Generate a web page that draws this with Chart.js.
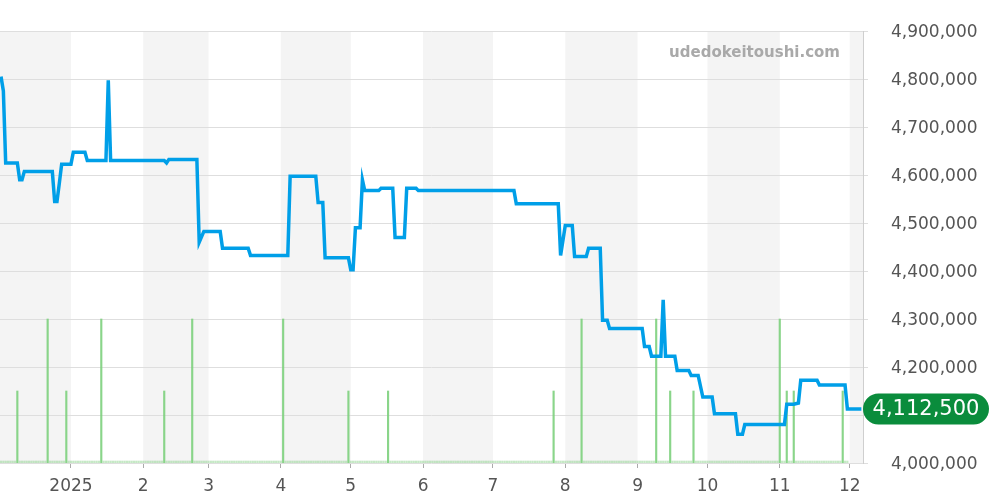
<!DOCTYPE html>
<html>
<head>
<meta charset="utf-8">
<script src="https://cdn.jsdelivr.net/npm/chart.js@4.4.1/dist/chart.umd.min.js"></script>
<style>
    html, body { margin: 0; padding: 0; background: #fff; }
    canvas { display: block; }
</style>
</head>
<body>
<canvas id="price" width="1000" height="500"></canvas>
<script>
// price line: only the corners of the step line
let priceDates = [
    '2024-12-02', '2024-12-03', '2024-12-04', '2024-12-09', '2024-12-10', '2024-12-11', '2024-12-12',
    '2024-12-24', '2024-12-25', '2024-12-26', '2024-12-27', '2024-12-28',
    '2025-01-01', '2025-01-02', '2025-01-07', '2025-01-08', '2025-01-16', '2025-01-17', '2025-01-18',
    '2025-02-10', '2025-02-11', '2025-02-12', '2025-02-24', '2025-02-25', '2025-02-27',
    '2025-03-06', '2025-03-07', '2025-03-18', '2025-03-19',
    '2025-04-04', '2025-04-05', '2025-04-16', '2025-04-17', '2025-04-19', '2025-04-20', '2025-04-30',
    '2025-05-01', '2025-05-02', '2025-05-03', '2025-05-05', '2025-05-06', '2025-05-07', '2025-05-13',
    '2025-05-14', '2025-05-19', '2025-05-20', '2025-05-24', '2025-05-25', '2025-05-29', '2025-05-30',
    '2025-07-10', '2025-07-11', '2025-07-29', '2025-07-30',
    '2025-08-01', '2025-08-04', '2025-08-05', '2025-08-10', '2025-08-11', '2025-08-16', '2025-08-17',
    '2025-08-19', '2025-08-20',
    '2025-09-03', '2025-09-04', '2025-09-06', '2025-09-07', '2025-09-11', '2025-09-12', '2025-09-13',
    '2025-09-17', '2025-09-18', '2025-09-23', '2025-09-24', '2025-09-27', '2025-09-29',
    '2025-10-03', '2025-10-04', '2025-10-13', '2025-10-14', '2025-10-16', '2025-10-17',
    '2025-11-03', '2025-11-04', '2025-11-07', '2025-11-09', '2025-11-10', '2025-11-17', '2025-11-18',
    '2025-11-29', '2025-11-30', '2025-12-06'
];
let prices = [
    4805000, 4775000, 4625000, 4625000, 4590000, 4590000, 4607500,
    4607500, 4545000, 4545000, 4582500, 4622500,
    4622500, 4647500, 4647500, 4630000, 4630000, 4797500, 4630000,
    4630000, 4625000, 4632500, 4632500, 4460000, 4482500,
    4482500, 4447500, 4447500, 4432500,
    4432500, 4597500, 4597500, 4542500, 4542500, 4427500, 4427500,
    4402500, 4402500, 4490000, 4490000, 4590000, 4567500, 4567500,
    4572500, 4572500, 4470000, 4470000, 4572500, 4572500, 4567500,
    4567500, 4540000, 4540000, 4432500,
    4495000, 4495000, 4430000, 4430000, 4447500, 4447500, 4297500,
    4297500, 4280000,
    4280000, 4242500, 4242500, 4222500, 4222500, 4340000, 4222500,
    4222500, 4192500, 4192500, 4182500, 4182500, 4137500,
    4137500, 4102500, 4102500, 4060000, 4060000, 4080000,
    4080000, 4122500, 4122500, 4125000, 4172500, 4172500, 4162500,
    4162500, 4112500, 4112500
];

// trades per day (green bars)
let tradeDates = [
    '2024-12-09', '2024-12-22', '2024-12-30', '2025-01-14', '2025-02-10', '2025-02-22',
    '2025-04-02', '2025-04-30', '2025-05-17', '2025-07-27', '2025-08-08', '2025-09-09',
    '2025-09-15', '2025-09-25', '2025-11-01', '2025-11-04', '2025-11-07', '2025-11-28'
];
let tradeCounts = [1, 2, 1, 2, 1, 2, 2, 1, 1, 1, 2, 2, 1, 1, 2, 1, 1, 1];

let monthStarts = [
    '2025-01-01', '2025-02-01', '2025-03-01', '2025-04-01', '2025-05-01', '2025-06-01',
    '2025-07-01', '2025-08-01', '2025-09-01', '2025-10-01', '2025-11-01', '2025-12-01'
];
let monthLabels = ['2025', '2', '3', '4', '5', '6', '7', '8', '9', '10', '11', '12'];
let priceTicks = [4000000, 4100000, 4200000, 4300000, 4400000, 4500000, 4600000, 4700000, 4800000, 4900000];

const siteName = 'udedokeitoushi.com';
const origin = Date.UTC(2024, 11, 1);
const FONT = 'DejaVu Sans';

function toDay(s) {
    let p = s.split('-');
    return (Date.UTC(+p[0], +p[1] - 1, +p[2]) - origin) / 86400000;
}

let pricePoints = priceDates.map((s, i) => ({ x: toDay(s), y: prices[i] }));

// every day of the year gets a bar, zero days show as the dotted base
let volume = [];
for (let d = 0; d <= toDay('2025-11-30'); d++) volume.push({ x: d, y: 0 });
tradeDates.forEach((s, i) => { volume[toDay(s)].y = tradeCounts[i]; });

let bandEdges = ['2024-12-01'].concat(monthStarts, ['2026-01-01']);

const monthBands = {
    id: 'monthBands',
    beforeDraw(chart) {
        const { ctx, chartArea, scales } = chart;
        ctx.save();
        ctx.beginPath();
        ctx.rect(chartArea.left, chartArea.top, chartArea.width, chartArea.height);
        ctx.clip();
        ctx.fillStyle = '#f4f4f4';
        for (let i = 0; i < bandEdges.length - 1; i += 2) {
            let a = scales.x.getPixelForValue(toDay(bandEdges[i]));
            let b = scales.x.getPixelForValue(toDay(bandEdges[i + 1]));
            ctx.fillRect(a, chartArea.top, b - a, chartArea.height);
        }
        ctx.restore();
    },
    beforeDatasetsDraw(chart) {
        const { ctx, chartArea } = chart;
        ctx.save();
        ctx.font = 'bold 15px "' + FONT + '"';
        ctx.fillStyle = '#a9a9a9';
        ctx.textAlign = 'right';
        ctx.textBaseline = 'middle';
        ctx.fillText(siteName, chartArea.right - 23, chartArea.top + 22);
        ctx.restore();
    }
};

const lastPriceTag = {
    id: 'lastPriceTag',
    afterDraw(chart) {
        const { ctx, chartArea, scales } = chart;
        let last = prices[prices.length - 1];
        let y = scales.y.getPixelForValue(last);
        let x = chartArea.right, w = 126, h = 31;
        ctx.save();
        ctx.fillStyle = '#0a8c3c';
        ctx.beginPath();
        ctx.roundRect(x, y - h / 2, w, h, h / 2);
        ctx.fill();
        ctx.fillStyle = '#fff';
        ctx.font = '21px "' + FONT + '"';
        ctx.textAlign = 'center';
        ctx.textBaseline = 'middle';
        ctx.fillText(last.toLocaleString('en-US'), x + w / 2, y + 1);
        ctx.restore();
    }
};

let ctx = document.getElementById('price').getContext('2d');
let priceChart = new Chart(ctx, {
    type: 'line',
    data: {
        datasets: [{
            type: 'line',
            data: pricePoints,
            borderColor: '#009fe8',
            borderWidth: 3.5,
            pointRadius: 0,
            tension: 0,
            yAxisID: 'y',
            order: 1
        }, {
            type: 'bar',
            data: volume,
            backgroundColor: c => (c.raw && c.raw.y > 0) ? 'rgba(125, 208, 125, 0.9)' : 'rgba(140, 210, 140, 0.5)',
            barThickness: 1.5,
            minBarLength: 2,
            yAxisID: 'yv',
            order: 2
        }]
    },
    options: {
        responsive: false,
        animation: false,
        layout: { padding: { top: 31, left: 0, right: 0, bottom: 0 } },
        plugins: { legend: { display: false }, tooltip: { enabled: false } },
        scales: {
            x: {
                type: 'linear',
                offset: false,
                min: 0.56,
                max: 370.7,
                afterBuildTicks: axis => {
                    axis.ticks = monthStarts.map(s => ({ value: toDay(s) }));
                },
                afterFit: axis => { axis.height = 37; },
                ticks: {
                    callback: (v, i) => monthLabels[i],
                    autoSkip: false,
                    maxRotation: 0,
                    padding: 8,
                    color: '#555',
                    font: { family: FONT, size: 17 }
                },
                grid: { offset: false, drawOnChartArea: false, drawTicks: true, tickLength: 5, color: '#aaa' },
                border: { display: false }
            },
            y: {
                position: 'right',
                min: 4000000,
                max: 4900000,
                afterBuildTicks: axis => {
                    axis.ticks = priceTicks.map(v => ({ value: v }));
                },
                afterFit: axis => {
                    // the big label padding should not push the plot down
                    axis.width = 137;
                    axis.paddingTop = 0;
                    axis.paddingBottom = 0;
                },
                ticks: {
                    callback: v => v.toLocaleString('en-US'),
                    padding: 23,
                    labelOffset: 2,
                    color: '#555',
                    font: { family: FONT, size: 17 }
                },
                grid: { color: '#dedede', tickLength: 5 },
                border: { display: true, color: '#cfcfcf' }
            },
            yv: {
                position: 'left',
                display: false,
                min: 0,
                max: 6
            }
        }
    },
    plugins: [monthBands, lastPriceTag]
});
</script>
</body>
</html>
